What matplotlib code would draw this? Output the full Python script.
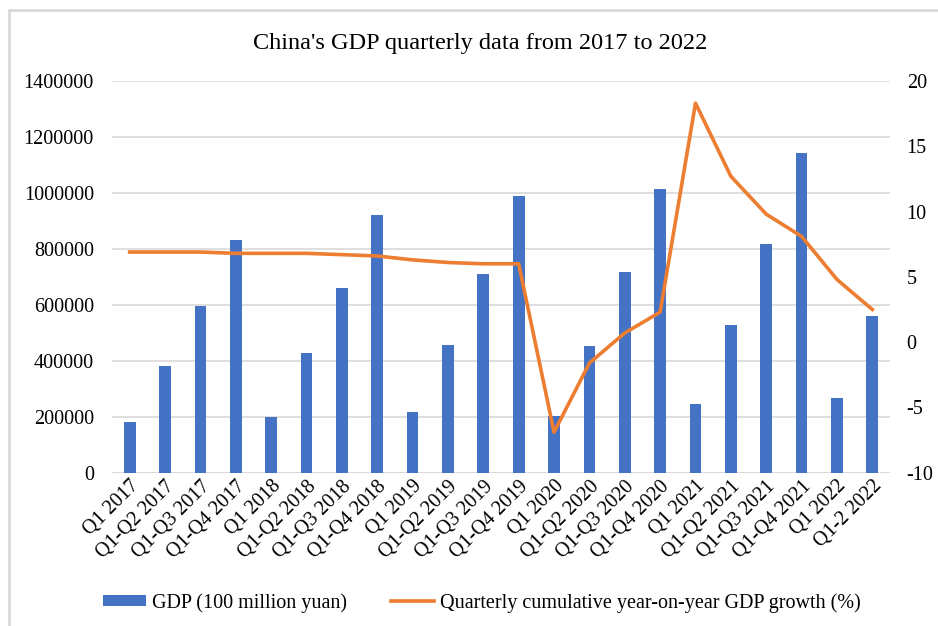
import numpy as np
import matplotlib.pyplot as plt
from matplotlib.patches import Rectangle

plt.rcParams['font.family'] = ['Liberation Serif', 'DejaVu Serif']
plt.rcParams['axes.unicode_minus'] = False

quarters = ['Q1 2017', 'Q1-Q2 2017', 'Q1-Q3 2017', 'Q1-Q4 2017',
            'Q1 2018', 'Q1-Q2 2018', 'Q1-Q3 2018', 'Q1-Q4 2018',
            'Q1 2019', 'Q1-Q2 2019', 'Q1-Q3 2019', 'Q1-Q4 2019',
            'Q1 2020', 'Q1-Q2 2020', 'Q1-Q3 2020', 'Q1-Q4 2020',
            'Q1 2021', 'Q1-Q2 2021', 'Q1-Q3 2021', 'Q1-Q4 2021',
            'Q1 2022', 'Q1-2 2022']
gdp = [181000, 381000, 596000, 832000,
       200000, 427000, 659000, 920000,
       216000, 455000, 709000, 988000,
       203000, 453000, 717000, 1014000,
       246000, 528000, 818000, 1141000,
       267000, 561000]
growth = [6.9, 6.9, 6.9, 6.8,
          6.8, 6.8, 6.7, 6.6,
          6.3, 6.1, 6.0, 6.0,
          -6.9, -1.6, 0.7, 2.3,
          18.3, 12.7, 9.8, 8.1,
          4.8, 2.5]

blue = '#4472C4'
orange = '#ED7D31'
grid_c = '#D9D9D9'
fs = 14.5

fig = plt.figure(figsize=(9.38, 6.26), dpi=100)
# chart frame
fig.patches.append(Rectangle((9 / 938, -0.1), 1.1, 1 - 10 / 626 + 0.1,
                             transform=fig.transFigure, fill=False,
                             edgecolor='#D9D9D9', linewidth=2))

ax = fig.add_axes([112 / 938, 1 - 472.7 / 626, 778 / 938, (472.7 - 81) / 626])
x = np.arange(len(quarters))
bars = ax.bar(x, gdp, width=0.33, color=blue, zorder=2,
              label='GDP (100 million yuan)')
ax.set_xlim(-0.5, len(quarters) - 0.5)
ax.set_ylim(0, 1400000)
ax.set_yticks(np.arange(0, 1400001, 200000))
ax.set_yticklabels([str(v) for v in range(0, 1400001, 200000)])
ax.yaxis.grid(True, color=grid_c, linewidth=1.2, zorder=0)
ax.set_axisbelow(True)
for s in ax.spines.values():
    s.set_visible(False)
ax.tick_params(axis='y', length=0, labelsize=fs, pad=13)
ax.tick_params(axis='x', length=0, labelsize=fs, pad=3)
ax.set_xticks(x)
ax.set_xticklabels(quarters, rotation=45, ha='right', rotation_mode='anchor')
ax.axhline(0, color=grid_c, linewidth=1.2, zorder=1)

ax2 = ax.twinx()
line, = ax2.plot(x, growth, color=orange, linewidth=2.6, zorder=3,
                 label='Quarterly cumulative year-on-year GDP growth (%)')
ax2.set_ylim(-10, 20)
ax2.set_yticks(range(-10, 21, 5))
for s in ax2.spines.values():
    s.set_visible(False)
ax2.tick_params(axis='y', length=0, labelsize=fs, pad=12)

fig.text(480 / 938, 1 - 43 / 626, "China's GDP quarterly data from 2017 to 2022",
         ha='center', va='center', fontsize=17.5)

fig.legend([bars, line], [bars.get_label(), line.get_label()],
           loc='center', bbox_to_anchor=(482 / 938, 1 - 603 / 626), ncol=2,
           frameon=False, fontsize=fs, handlelength=2.16, handleheight=0.5,
           columnspacing=2.16, handletextpad=0.3)

fig.savefig('out.png', dpi=100)
